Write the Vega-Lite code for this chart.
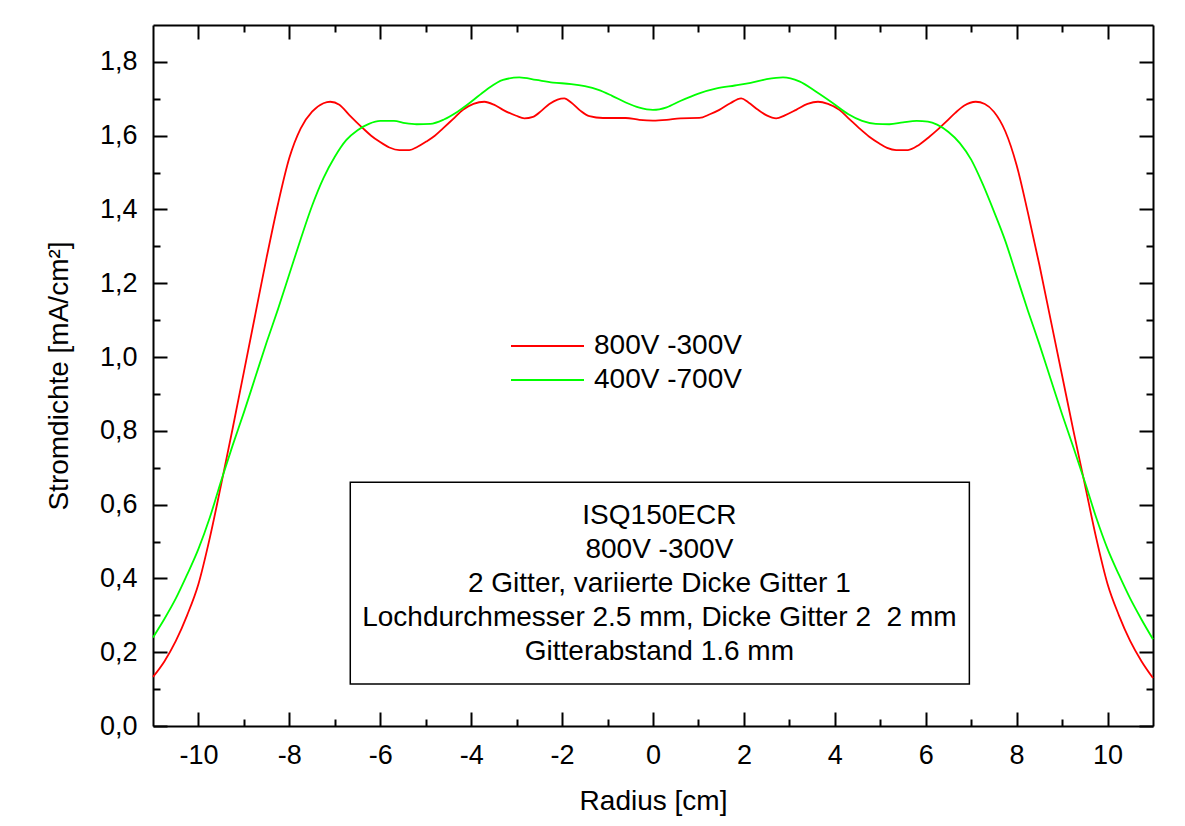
{
  "$schema": "https://vega.github.io/schema/vega-lite/v6.json",
  "autosize": {"type": "none"},
  "padding": {"left": 153, "top": 25, "right": 32, "bottom": 100},
  "width": 1000,
  "height": 701,
  "background": "white",
  "config": {
    "font": "Liberation Sans",
    "view": {"stroke": null},
    "axis": {"domainColor": "black", "domainWidth": 2, "tickColor": "black", "tickWidth": 2, "labelColor": "black", "titleColor": "black", "labelFont": "Liberation Sans", "titleFont": "Liberation Sans", "labelFontSize": 27, "titleFontSize": 28, "titleFontWeight": "normal", "grid": false}
  },
  "datasets": {
    "curves": [
      {"r": -11, "j": 0.133, "s": "800V -300V"},
      {"r": -10.75, "j": 0.175, "s": "800V -300V"},
      {"r": -10.5, "j": 0.23, "s": "800V -300V"},
      {"r": -10.25, "j": 0.3, "s": "800V -300V"},
      {"r": -10, "j": 0.385, "s": "800V -300V"},
      {"r": -9.75, "j": 0.51, "s": "800V -300V"},
      {"r": -9.5, "j": 0.655, "s": "800V -300V"},
      {"r": -9.25, "j": 0.805, "s": "800V -300V"},
      {"r": -9.0, "j": 0.96, "s": "800V -300V"},
      {"r": -8.75, "j": 1.115, "s": "800V -300V"},
      {"r": -8.5, "j": 1.27, "s": "800V -300V"},
      {"r": -8.25, "j": 1.415, "s": "800V -300V"},
      {"r": -8.0, "j": 1.54, "s": "800V -300V"},
      {"r": -7.75, "j": 1.62, "s": "800V -300V"},
      {"r": -7.5, "j": 1.665, "s": "800V -300V"},
      {"r": -7.25, "j": 1.688, "s": "800V -300V"},
      {"r": -7.1, "j": 1.692, "s": "800V -300V"},
      {"r": -6.9, "j": 1.684, "s": "800V -300V"},
      {"r": -6.68, "j": 1.656, "s": "800V -300V"},
      {"r": -6.38, "j": 1.62, "s": "800V -300V"},
      {"r": -6.2, "j": 1.6, "s": "800V -300V"},
      {"r": -6.02, "j": 1.584, "s": "800V -300V"},
      {"r": -5.8, "j": 1.568, "s": "800V -300V"},
      {"r": -5.58, "j": 1.561, "s": "800V -300V"},
      {"r": -5.36, "j": 1.561, "s": "800V -300V"},
      {"r": -5.18, "j": 1.57, "s": "800V -300V"},
      {"r": -4.99, "j": 1.584, "s": "800V -300V"},
      {"r": -4.8, "j": 1.6, "s": "800V -300V"},
      {"r": -4.62, "j": 1.62, "s": "800V -300V"},
      {"r": -4.4, "j": 1.645, "s": "800V -300V"},
      {"r": -4.18, "j": 1.67, "s": "800V -300V"},
      {"r": -3.95, "j": 1.686, "s": "800V -300V"},
      {"r": -3.71, "j": 1.692, "s": "800V -300V"},
      {"r": -3.5, "j": 1.684, "s": "800V -300V"},
      {"r": -3.3, "j": 1.67, "s": "800V -300V"},
      {"r": -3.01, "j": 1.654, "s": "800V -300V"},
      {"r": -2.83, "j": 1.647, "s": "800V -300V"},
      {"r": -2.64, "j": 1.651, "s": "800V -300V"},
      {"r": -2.45, "j": 1.668, "s": "800V -300V"},
      {"r": -2.28, "j": 1.686, "s": "800V -300V"},
      {"r": -2.1, "j": 1.698, "s": "800V -300V"},
      {"r": -1.95, "j": 1.701, "s": "800V -300V"},
      {"r": -1.8, "j": 1.69, "s": "800V -300V"},
      {"r": -1.6, "j": 1.668, "s": "800V -300V"},
      {"r": -1.4, "j": 1.653, "s": "800V -300V"},
      {"r": -1.1, "j": 1.648, "s": "800V -300V"},
      {"r": -0.6, "j": 1.648, "s": "800V -300V"},
      {"r": -0.3, "j": 1.643, "s": "800V -300V"},
      {"r": 0, "j": 1.641, "s": "800V -300V"},
      {"r": 0.3, "j": 1.643, "s": "800V -300V"},
      {"r": 0.6, "j": 1.647, "s": "800V -300V"},
      {"r": 1.02, "j": 1.648, "s": "800V -300V"},
      {"r": 1.25, "j": 1.658, "s": "800V -300V"},
      {"r": 1.46, "j": 1.67, "s": "800V -300V"},
      {"r": 1.7, "j": 1.688, "s": "800V -300V"},
      {"r": 1.94, "j": 1.701, "s": "800V -300V"},
      {"r": 2.1, "j": 1.69, "s": "800V -300V"},
      {"r": 2.31, "j": 1.67, "s": "800V -300V"},
      {"r": 2.5, "j": 1.655, "s": "800V -300V"},
      {"r": 2.71, "j": 1.647, "s": "800V -300V"},
      {"r": 2.9, "j": 1.655, "s": "800V -300V"},
      {"r": 3.15, "j": 1.67, "s": "800V -300V"},
      {"r": 3.4, "j": 1.686, "s": "800V -300V"},
      {"r": 3.63, "j": 1.692, "s": "800V -300V"},
      {"r": 3.85, "j": 1.686, "s": "800V -300V"},
      {"r": 4.1, "j": 1.67, "s": "800V -300V"},
      {"r": 4.32, "j": 1.645, "s": "800V -300V"},
      {"r": 4.54, "j": 1.62, "s": "800V -300V"},
      {"r": 4.75, "j": 1.598, "s": "800V -300V"},
      {"r": 4.98, "j": 1.579, "s": "800V -300V"},
      {"r": 5.15, "j": 1.567, "s": "800V -300V"},
      {"r": 5.35, "j": 1.561, "s": "800V -300V"},
      {"r": 5.61, "j": 1.561, "s": "800V -300V"},
      {"r": 5.85, "j": 1.575, "s": "800V -300V"},
      {"r": 6.08, "j": 1.597, "s": "800V -300V"},
      {"r": 6.25, "j": 1.615, "s": "800V -300V"},
      {"r": 6.45, "j": 1.638, "s": "800V -300V"},
      {"r": 6.65, "j": 1.662, "s": "800V -300V"},
      {"r": 6.85, "j": 1.682, "s": "800V -300V"},
      {"r": 7.1, "j": 1.692, "s": "800V -300V"},
      {"r": 7.3, "j": 1.686, "s": "800V -300V"},
      {"r": 7.5, "j": 1.665, "s": "800V -300V"},
      {"r": 7.75, "j": 1.612, "s": "800V -300V"},
      {"r": 8.0, "j": 1.52, "s": "800V -300V"},
      {"r": 8.25, "j": 1.39, "s": "800V -300V"},
      {"r": 8.5, "j": 1.25, "s": "800V -300V"},
      {"r": 8.75, "j": 1.1, "s": "800V -300V"},
      {"r": 9.0, "j": 0.95, "s": "800V -300V"},
      {"r": 9.25, "j": 0.8, "s": "800V -300V"},
      {"r": 9.5, "j": 0.655, "s": "800V -300V"},
      {"r": 9.75, "j": 0.51, "s": "800V -300V"},
      {"r": 10, "j": 0.385, "s": "800V -300V"},
      {"r": 10.25, "j": 0.3, "s": "800V -300V"},
      {"r": 10.5, "j": 0.23, "s": "800V -300V"},
      {"r": 10.75, "j": 0.175, "s": "800V -300V"},
      {"r": 11, "j": 0.13, "s": "800V -300V"},
      {"r": -11, "j": 0.24, "s": "400V -700V"},
      {"r": -10.75, "j": 0.29, "s": "400V -700V"},
      {"r": -10.5, "j": 0.345, "s": "400V -700V"},
      {"r": -10.25, "j": 0.41, "s": "400V -700V"},
      {"r": -10, "j": 0.48, "s": "400V -700V"},
      {"r": -9.75, "j": 0.565, "s": "400V -700V"},
      {"r": -9.5, "j": 0.665, "s": "400V -700V"},
      {"r": -9.25, "j": 0.76, "s": "400V -700V"},
      {"r": -9.0, "j": 0.85, "s": "400V -700V"},
      {"r": -8.75, "j": 0.945, "s": "400V -700V"},
      {"r": -8.5, "j": 1.04, "s": "400V -700V"},
      {"r": -8.25, "j": 1.13, "s": "400V -700V"},
      {"r": -8.0, "j": 1.225, "s": "400V -700V"},
      {"r": -7.75, "j": 1.32, "s": "400V -700V"},
      {"r": -7.5, "j": 1.41, "s": "400V -700V"},
      {"r": -7.25, "j": 1.485, "s": "400V -700V"},
      {"r": -7.0, "j": 1.543, "s": "400V -700V"},
      {"r": -6.75, "j": 1.588, "s": "400V -700V"},
      {"r": -6.5, "j": 1.615, "s": "400V -700V"},
      {"r": -6.25, "j": 1.632, "s": "400V -700V"},
      {"r": -6.0, "j": 1.64, "s": "400V -700V"},
      {"r": -5.7, "j": 1.64, "s": "400V -700V"},
      {"r": -5.45, "j": 1.634, "s": "400V -700V"},
      {"r": -5.2, "j": 1.631, "s": "400V -700V"},
      {"r": -4.9, "j": 1.632, "s": "400V -700V"},
      {"r": -4.6, "j": 1.644, "s": "400V -700V"},
      {"r": -4.3, "j": 1.665, "s": "400V -700V"},
      {"r": -4.0, "j": 1.692, "s": "400V -700V"},
      {"r": -3.67, "j": 1.724, "s": "400V -700V"},
      {"r": -3.3, "j": 1.751, "s": "400V -700V"},
      {"r": -2.94, "j": 1.758, "s": "400V -700V"},
      {"r": -2.57, "j": 1.751, "s": "400V -700V"},
      {"r": -2.2, "j": 1.744, "s": "400V -700V"},
      {"r": -1.8, "j": 1.74, "s": "400V -700V"},
      {"r": -1.5, "j": 1.734, "s": "400V -700V"},
      {"r": -1.2, "j": 1.724, "s": "400V -700V"},
      {"r": -0.9, "j": 1.708, "s": "400V -700V"},
      {"r": -0.6, "j": 1.69, "s": "400V -700V"},
      {"r": -0.3, "j": 1.676, "s": "400V -700V"},
      {"r": 0, "j": 1.67, "s": "400V -700V"},
      {"r": 0.3, "j": 1.677, "s": "400V -700V"},
      {"r": 0.6, "j": 1.694, "s": "400V -700V"},
      {"r": 1.0, "j": 1.714, "s": "400V -700V"},
      {"r": 1.4, "j": 1.728, "s": "400V -700V"},
      {"r": 1.8, "j": 1.736, "s": "400V -700V"},
      {"r": 2.15, "j": 1.743, "s": "400V -700V"},
      {"r": 2.5, "j": 1.753, "s": "400V -700V"},
      {"r": 2.86, "j": 1.758, "s": "400V -700V"},
      {"r": 3.22, "j": 1.747, "s": "400V -700V"},
      {"r": 3.59, "j": 1.719, "s": "400V -700V"},
      {"r": 3.96, "j": 1.688, "s": "400V -700V"},
      {"r": 4.3, "j": 1.658, "s": "400V -700V"},
      {"r": 4.6, "j": 1.64, "s": "400V -700V"},
      {"r": 4.9, "j": 1.632, "s": "400V -700V"},
      {"r": 5.2, "j": 1.631, "s": "400V -700V"},
      {"r": 5.5, "j": 1.636, "s": "400V -700V"},
      {"r": 5.8, "j": 1.64, "s": "400V -700V"},
      {"r": 6.05, "j": 1.638, "s": "400V -700V"},
      {"r": 6.25, "j": 1.63, "s": "400V -700V"},
      {"r": 6.5, "j": 1.61, "s": "400V -700V"},
      {"r": 6.75, "j": 1.58, "s": "400V -700V"},
      {"r": 7.0, "j": 1.535, "s": "400V -700V"},
      {"r": 7.25, "j": 1.47, "s": "400V -700V"},
      {"r": 7.5, "j": 1.395, "s": "400V -700V"},
      {"r": 7.75, "j": 1.315, "s": "400V -700V"},
      {"r": 8.0, "j": 1.22, "s": "400V -700V"},
      {"r": 8.25, "j": 1.125, "s": "400V -700V"},
      {"r": 8.5, "j": 1.035, "s": "400V -700V"},
      {"r": 8.75, "j": 0.94, "s": "400V -700V"},
      {"r": 9.0, "j": 0.845, "s": "400V -700V"},
      {"r": 9.25, "j": 0.755, "s": "400V -700V"},
      {"r": 9.5, "j": 0.662, "s": "400V -700V"},
      {"r": 9.75, "j": 0.565, "s": "400V -700V"},
      {"r": 10, "j": 0.48, "s": "400V -700V"},
      {"r": 10.25, "j": 0.41, "s": "400V -700V"},
      {"r": 10.5, "j": 0.345, "s": "400V -700V"},
      {"r": 10.75, "j": 0.288, "s": "400V -700V"},
      {"r": 11, "j": 0.235, "s": "400V -700V"}
    ],
    "note": [
      {"text": "ISQ150ECR\n800V -300V\n2 Gitter, variierte Dicke Gitter 1\nLochdurchmesser 2.5 mm, Dicke Gitter 2\u00a0 2 mm\nGitterabstand 1.6 mm"}
    ]
  },
  "resolve": {"axis": {"x": "independent", "y": "independent"}},
  "layer": [
    {
      "data": {"name": "note"},
      "mark": {"type": "rect", "fill": "white", "stroke": "black", "strokeWidth": 1.5},
      "encoding": {
        "x": {"datum": -6.66, "type": "quantitative", "scale": {"domain": [-11, 11], "nice": false, "zero": false}, "axis": null},
        "x2": {"datum": 6.96},
        "y": {"datum": 0.661, "type": "quantitative", "scale": {"domain": [0, 1.9], "nice": false, "zero": false}, "axis": null},
        "y2": {"datum": 0.114}
      }
    },
    {
      "data": {"name": "note"},
      "mark": {"type": "text", "font": "Liberation Sans", "fontSize": 28, "color": "black", "lineBreak": "\n", "lineHeight": 34, "align": "center", "baseline": "middle"},
      "encoding": {
        "x": {"datum": 0.14, "type": "quantitative", "scale": {"domain": [-11, 11], "nice": false, "zero": false}, "axis": null},
        "y": {"datum": 0.569, "type": "quantitative", "scale": {"domain": [0, 1.9], "nice": false, "zero": false}, "axis": null},
        "text": {"field": "text", "type": "nominal"}
      }
    },
    {
      "data": {"name": "curves"},
      "mark": {"type": "line", "strokeWidth": 1.8, "interpolate": "monotone"},
      "encoding": {
        "x": {"field": "r", "type": "quantitative", "scale": {"domain": [-11, 11], "nice": false, "zero": false},
          "axis": {"orient": "bottom", "title": "Radius [cm]", "values": [-10, -8, -6, -4, -2, 0, 2, 4, 6, 8, 10], "tickSize": -14, "labelPadding": 30, "labelExpr": "'' + datum.value", "titlePadding": 19}},
        "y": {"field": "j", "type": "quantitative", "scale": {"domain": [0, 1.9], "nice": false, "zero": false},
          "axis": {"orient": "left", "title": "Stromdichte [mA/cm²]", "values": [0, 0.2, 0.4, 0.6, 0.8, 1.0, 1.2, 1.4, 1.6, 1.8], "tickSize": -14, "labelPadding": 30, "labelExpr": "replace(format(datum.value, '.1f'), '.', ',')", "titlePadding": 26}},
        "color": {"field": "s", "type": "nominal", "sort": ["800V -300V", "400V -700V"],
          "scale": {"domain": ["800V -300V", "400V -700V"], "range": ["#ff0000", "#00ff00"]},
          "legend": {"title": null, "orient": "none", "legendX": 357, "legendY": 307, "padding": 0, "symbolType": "stroke", "symbolSize": 5329, "symbolStrokeWidth": 1.8, "clipHeight": 28, "rowPadding": 6, "labelOffset": 9, "labelFont": "Liberation Sans", "labelFontSize": 28, "labelColor": "black"}}
      }
    },
    {
      "data": {"name": "curves"},
      "mark": {"type": "point", "opacity": 0},
      "encoding": {
        "x": {"field": "r", "type": "quantitative", "scale": {"domain": [-11, 11], "nice": false, "zero": false},
          "axis": {"orient": "bottom", "title": null, "labels": false, "domain": false, "values": [-9, -7, -5, -3, -1, 1, 3, 5, 7, 9], "tickSize": -7}},
        "y": {"field": "j", "type": "quantitative", "scale": {"domain": [0, 1.9], "nice": false, "zero": false},
          "axis": {"orient": "left", "title": null, "labels": false, "domain": false, "values": [0.1, 0.3, 0.5, 0.7, 0.9, 1.1, 1.3, 1.5, 1.7], "tickSize": -7}}
      }
    },
    {
      "data": {"name": "curves"},
      "mark": {"type": "point", "opacity": 0},
      "encoding": {
        "x": {"field": "r", "type": "quantitative", "scale": {"domain": [-11, 11], "nice": false, "zero": false},
          "axis": {"orient": "top", "title": null, "labels": false, "values": [-10, -8, -6, -4, -2, 0, 2, 4, 6, 8, 10], "tickSize": -14}},
        "y": {"field": "j", "type": "quantitative", "scale": {"domain": [0, 1.9], "nice": false, "zero": false},
          "axis": {"orient": "right", "title": null, "labels": false, "values": [0, 0.2, 0.4, 0.6, 0.8, 1.0, 1.2, 1.4, 1.6, 1.8], "tickSize": -14}}
      }
    },
    {
      "data": {"name": "curves"},
      "mark": {"type": "point", "opacity": 0},
      "encoding": {
        "x": {"field": "r", "type": "quantitative", "scale": {"domain": [-11, 11], "nice": false, "zero": false},
          "axis": {"orient": "top", "title": null, "labels": false, "domain": false, "values": [-9, -7, -5, -3, -1, 1, 3, 5, 7, 9], "tickSize": -7}},
        "y": {"field": "j", "type": "quantitative", "scale": {"domain": [0, 1.9], "nice": false, "zero": false},
          "axis": {"orient": "right", "title": null, "labels": false, "domain": false, "values": [0.1, 0.3, 0.5, 0.7, 0.9, 1.1, 1.3, 1.5, 1.7], "tickSize": -7}}
      }
    }
  ]
}
